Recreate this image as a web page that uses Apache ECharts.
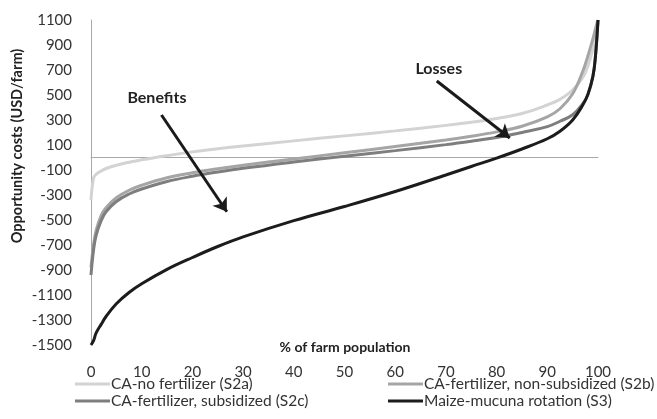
<!DOCTYPE html>
<html>
<head>
<meta charset="utf-8">
<script src="https://cdn.jsdelivr.net/npm/echarts@6/dist/echarts.min.js"></script>
<style>
html,body{margin:0;padding:0;background:#fff;}
#c{width:657px;height:419px;}
</style>
</head>
<body>
<div id="c"></div>
<script>
// % of farm population (x positions of sampled points)
var pct = [0, 0.5, 1, 2, 3, 5, 7.5, 10, 15, 20, 25, 30, 40, 50, 60, 70, 75, 80, 85, 90, 92.5, 95, 97, 98, 99, 99.5, 100];
var seriesNames = ['CA-no fertilizer (S2a)', 'CA-fertilizer, non-subsidized (S2b)', 'CA-fertilizer, subsidized (S2c)', 'Maize-mucuna rotation (S3)'];
var s2a = [-340, -165, -135, -108, -88, -62, -38, -18, 15, 45, 70, 92, 133, 173, 213, 257, 282, 312, 352, 420, 465, 540, 640, 730, 870, 970, 1080];
var s2b = [-880, -700, -585, -465, -400, -322, -262, -222, -162, -122, -90, -62, -12, 38, 88, 140, 170, 205, 250, 325, 390, 510, 690, 810, 950, 1030, 1100];
var s2c = [-940, -740, -625, -505, -432, -352, -292, -252, -192, -150, -116, -86, -36, 10, 55, 103, 130, 160, 200, 247, 290, 342, 430, 500, 650, 810, 1100];
var s3 = [-1500, -1465, -1405, -1335, -1270, -1170, -1080, -1010, -895, -800, -712, -635, -505, -392, -272, -140, -72, -5, 68, 150, 210, 300, 420, 505, 650, 810, 1100];
var xTicks = {min: 0, max: 100, interval: 10};
var yTicks = {min: -1500, max: 1100, interval: 200};
var annotations = [
  {text: 'Benefits', label: [13, 474], from: [13.9, 340], to: [26.8, -434]},
  {text: 'Losses', label: [68.6, 708], from: [68.2, 612], to: [82.6, 156]}
];

var FONT = 'Lato, "Open Sans", sans-serif';
var colors = ['#d3d3d3', '#a5a5a5', '#7e7e7e', '#1c1c1c'];
var values = [s2a, s2b, s2c, s3];

function pairs(arr) { return pct.map(function (x, i) { return [x, arr[i]]; }); }

var series = values.map(function (arr, i) {
  return {
    name: seriesNames[i], type: 'line', data: pairs(arr), smooth: 0.4,
    showSymbol: false, symbol: 'none', z: 2 + i,
    lineStyle: {color: colors[i], width: 3}, itemStyle: {color: colors[i]}
  };
});
// annotation layer
series.push({
  type: 'line', data: [], silent: true, z: 10,
  markLine: {
    silent: true, symbol: ['none', 'arrow'], symbolSize: 13,
    lineStyle: {color: '#1a1a1a', width: 3, type: 'solid'}, label: {show: false},
    data: annotations.map(function (a) { return [{coord: a.from}, {coord: a.to}]; })
  },
  markPoint: {
    silent: true, symbol: 'rect', symbolSize: 0,
    label: {show: true, position: 'inside', color: '#222', fontFamily: FONT, fontWeight: 'bold', fontSize: 16,
      formatter: function (p) { return p.name; }},
    data: annotations.map(function (a) { return {name: a.text, coord: a.label}; })
  }
});

var chart = echarts.init(document.getElementById('c'), null, {renderer: 'canvas'});
chart.setOption({
  animation: false,
  backgroundColor: '#fff',
  grid: {left: 91, right: 59, top: 20, bottom: 74, containLabel: false},
  xAxis: {
    type: 'value', min: xTicks.min, max: xTicks.max, interval: xTicks.interval,
    axisLine: {onZero: true, lineStyle: {color: '#a8a8a8', width: 1}},
    axisTick: {show: false}, splitLine: {show: false},
    axisLabel: {margin: 20, color: '#333', fontSize: 15, fontFamily: FONT, formatter: function (v) { return String(v); }}
  },
  yAxis: {
    type: 'value', min: yTicks.min, max: yTicks.max, interval: yTicks.interval,
    axisLine: {show: true, onZero: false, lineStyle: {color: '#a8a8a8', width: 1}},
    axisTick: {show: false}, splitLine: {show: false},
    axisLabel: {margin: 19, color: '#333', fontSize: 15, fontFamily: FONT, formatter: function (v) { return String(v); }}
  },
  legend: [
    {left: 70, top: 371, orient: 'vertical', itemGap: 1, itemWidth: 35, itemHeight: 3, icon: 'rect',
      data: [seriesNames[0], seriesNames[2]], textStyle: {color: '#333', fontSize: 15.5, fontFamily: FONT, padding: [0, 0, 0, -4]}},
    {left: 383, top: 371, orient: 'vertical', itemGap: 1, itemWidth: 35, itemHeight: 3, icon: 'rect',
      data: [seriesNames[1], seriesNames[3]], textStyle: {color: '#333', fontSize: 15.5, fontFamily: FONT, padding: [0, 0, 0, -4]}}
  ],
  graphic: [
    {type: 'text', x: 17, y: 146, rotation: Math.PI / 2,
      style: {text: 'Opportunity costs (USD/farm)', fill: '#222', font: 'bold 14.5px ' + FONT, align: 'center', verticalAlign: 'middle'}},
    {type: 'text', x: 345, y: 347,
      style: {text: '% of farm population', fill: '#222', font: 'bold 14px ' + FONT, align: 'center', verticalAlign: 'middle'}}
  ],
  series: series
});
</script>
</body>
</html>
